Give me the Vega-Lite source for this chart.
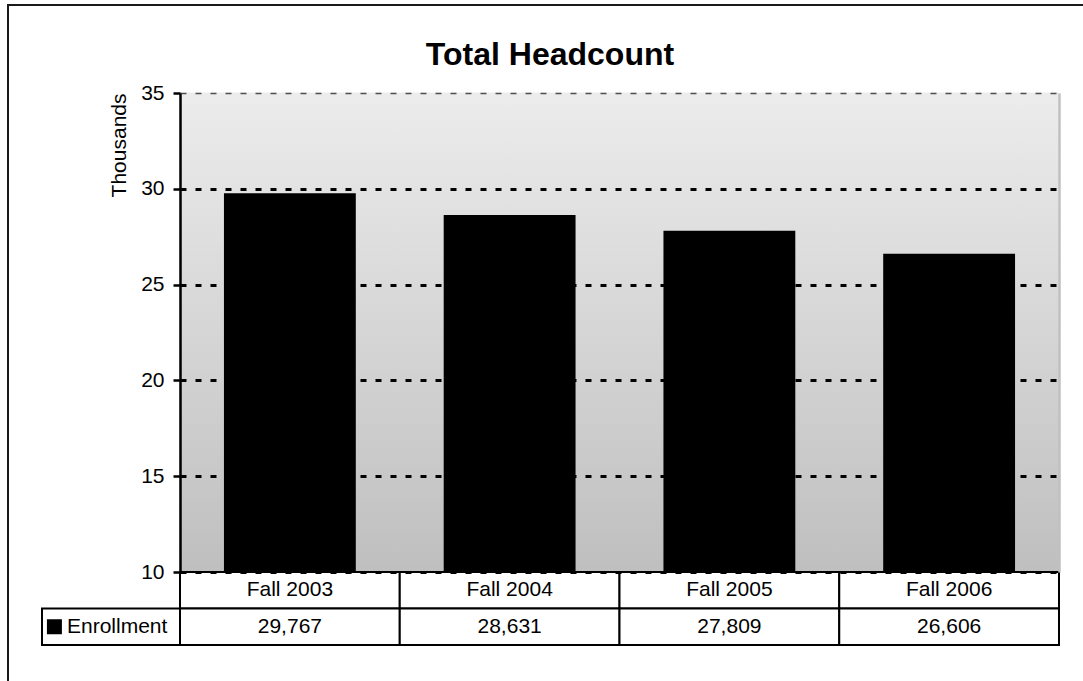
{
  "$schema": "https://vega.github.io/schema/vega-lite/v6.json",
  "width": 1076,
  "height": 677,
  "autosize": "none",
  "padding": {"left": 8, "top": 5, "right": 0, "bottom": 0},
  "background": "white",
  "title": {
    "text": "Total Headcount",
    "fontSize": 32,
    "fontWeight": "bold",
    "color": "black",
    "anchor": "middle",
    "frame": "group",
    "baseline": "alphabetic",
    "offset": -92,
    "dx": 4
  },
  "data": {
    "values": [
      {"term": "Fall 2003", "enrollment": 29767},
      {"term": "Fall 2004", "enrollment": 28631},
      {"term": "Fall 2005", "enrollment": 27809},
      {"term": "Fall 2006", "enrollment": 26606}
    ]
  },
  "layer": [
    {
      "layer": [
        {
          "mark": {
            "type": "rect",
            "fill": {
              "gradient": "linear",
              "x1": 0, "y1": 0, "x2": 0, "y2": 1,
              "stops": [
                {"offset": 0, "color": "#ececec"},
                {"offset": 1, "color": "#bfbfbf"}
              ]
            },
            "stroke": {
              "gradient": "linear",
              "x1": 0, "y1": 0, "x2": 0, "y2": 1,
              "stops": [
                {"offset": 0, "color": "#ececec"},
                {"offset": 1, "color": "#bfbfbf"}
              ]
            },
            "strokeWidth": 1
          },
          "encoding": {
            "x": {
              "field": "term",
              "type": "nominal",
              "sort": null,
              "scale": {
                "domain": ["Fall 2003", "Fall 2004", "Fall 2005", "Fall 2006"],
                "range": [172, 1051],
                "paddingInner": 0,
                "paddingOuter": 0
              },
              "axis": {
                "orient": "top",
                "offset": -88,
                "domainColor": "#c0c0c0",
                "domainWidth": 2.5,
                "ticks": false,
                "labels": false,
                "grid": false,
                "title": null,
                "zindex": 0
              }
            },
            "y": {
              "datum": 35000,
              "type": "quantitative",
              "axis": {
                "orient": "right",
                "offset": -25,
                "domainColor": "#c0c0c0",
                "domainWidth": 2.5,
                "ticks": false,
                "labels": false,
                "grid": false,
                "title": null,
                "zindex": 1
              }
            },
            "y2": {"datum": 10000}
          }
        },
        {
          "mark": {"type": "bar", "color": "black", "width": {"band": 0.6}},
          "encoding": {
            "x": {"field": "term", "type": "nominal", "sort": null, "axis": null},
            "y": {
              "field": "enrollment",
              "type": "quantitative",
              "scale": {"domain": [10000, 35000], "range": [567, 88], "zero": false, "nice": false},
              "axis": {
                "orient": "left",
                "offset": -172,
                "values": [10000, 15000, 20000, 25000, 30000, 35000],
                "labelExpr": "datum.value / 1000",
                "labelFontSize": 21,
                "labelColor": "black",
                "labelPadding": 9,
                "tickColor": "black",
                "tickSize": 7,
                "tickWidth": 2.5,
                "domainColor": "black",
                "domainWidth": 2.5,
                "grid": true,
                "gridColor": {"condition": {"test": "datum.value === 35000", "value": "#505050"}, "value": "black"},
                "gridWidth": {"condition": {"test": "datum.value === 35000", "value": 1.5}, "value": 3},
                "gridDash": [6, 9],
                "title": "Thousands",
                "titleFontSize": 21,
                "titleFontWeight": "normal",
                "titleColor": "black",
                "titleAnchor": "end",
                "titlePadding": 11,
                "zindex": 2
              }
            },
            "y2": {"datum": 10000}
          }
        }
      ]
    },
    {
      "encoding": {
        "x": {
          "field": "term",
          "type": "nominal",
          "sort": null,
          "scale": {
            "domain": ["Fall 2003", "Fall 2004", "Fall 2005", "Fall 2006"],
            "range": [172, 1051],
            "paddingInner": 0,
            "paddingOuter": 0
          },
          "axis": null
        }
      },
      "layer": [
        {
          "mark": {"type": "rect", "fill": "white", "stroke": "black", "strokeWidth": 2},
          "encoding": {
            "y": {"datum": "Term", "type": "nominal", "scale": {"domain": ["Term", "Enrollment"], "range": [567, 640], "paddingInner": 0, "paddingOuter": 0}, "axis": null}
          }
        },
        {
          "mark": {"type": "rect", "fill": "white", "stroke": "black", "strokeWidth": 2},
          "encoding": {
            "y": {"datum": "Enrollment", "type": "nominal"}
          }
        },
        {
          "mark": {"type": "text", "fontSize": 21, "color": "black"},
          "encoding": {
            "y": {"datum": "Term", "type": "nominal"},
            "text": {"field": "term", "type": "nominal"}
          }
        },
        {
          "mark": {"type": "text", "fontSize": 21, "color": "black"},
          "encoding": {
            "y": {"datum": "Enrollment", "type": "nominal"},
            "text": {"field": "enrollment", "type": "quantitative", "format": ","}
          }
        }
      ]
    },
    {
      "data": {"values": [{"series": "Enrollment"}]},
      "encoding": {
        "y": {"field": "series", "type": "nominal", "scale": {"domain": ["Term", "Enrollment"], "range": [567, 640], "paddingInner": 0, "paddingOuter": 0}, "axis": null}
      },
      "layer": [
        {
          "mark": {"type": "rect", "fill": "white", "stroke": "black", "strokeWidth": 2},
          "encoding": {
            "x": {"field": "series", "type": "nominal", "scale": {"domain": ["Enrollment"], "range": [34, 172], "paddingInner": 0, "paddingOuter": 0}, "axis": null}
          }
        },
        {
          "mark": {"type": "point", "shape": "square", "filled": true, "color": "black", "opacity": 1, "size": 225},
          "encoding": {
            "x": {"field": "series", "type": "nominal", "bandPosition": 0.09}
          }
        },
        {
          "mark": {"type": "text", "align": "left", "dx": 25, "fontSize": 21, "color": "black"},
          "encoding": {
            "x": {"field": "series", "type": "nominal", "bandPosition": 0},
            "text": {"field": "series", "type": "nominal"}
          }
        }
      ]
    }
  ],
  "resolve": {"scale": {"x": "independent", "y": "independent"}},
  "config": {
    "font": "Liberation Sans",
    "view": {"stroke": "#1a1a1a", "strokeWidth": 2}
  }
}
